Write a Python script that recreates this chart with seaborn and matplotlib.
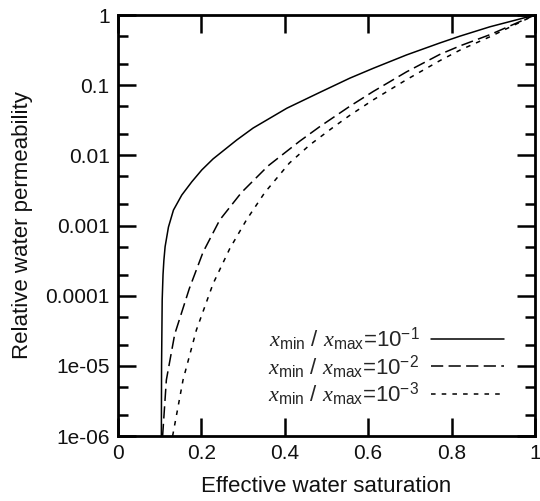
import seaborn as sns
import matplotlib.pyplot as plt
import matplotlib.ticker as mticker
import pandas as pd

# curves (effective saturation, relative permeability)
sat_1 = [0.104, 0.1045, 0.106, 0.108, 0.110, 0.113, 0.121, 0.133, 0.153, 0.177, 0.201, 0.228,
         0.285, 0.324, 0.405, 0.484, 0.556, 0.612, 0.692, 0.772, 0.820, 0.892, 1.0]
krw_1 = [1e-6, 1e-5, 8.7e-5, 2.0e-4, 3.16e-4, 5.0e-4, 9.5e-4, 1.66e-3, 2.72e-3, 4.2e-3, 6.2e-3, 8.9e-3,
         0.0166, 0.0245, 0.047, 0.079, 0.126, 0.174, 0.27, 0.40, 0.50, 0.68, 1.0]

sat_2 = [0.107, 0.116, 0.136, 0.171, 0.204, 0.244, 0.296, 0.36, 0.435, 0.484,
         0.556, 0.612, 0.692, 0.772, 0.820, 0.892, 1.0]
krw_2 = [1e-6, 6.3e-6, 2.82e-5, 1.26e-4, 4.17e-4, 1.2e-3, 2.95e-3, 7.08e-3, 0.0158, 0.0257,
         0.0501, 0.0813, 0.155, 0.275, 0.363, 0.525, 1.0]

sat_3 = [0.131, 0.156, 0.188, 0.228, 0.268, 0.308, 0.352, 0.411, 0.460, 0.516,
         0.556, 0.612, 0.692, 0.772, 0.820, 0.892, 1.0]
krw_3 = [1e-6, 6.3e-6, 3.24e-5, 1.48e-4, 4.68e-4, 1.2e-3, 2.95e-3, 7.76e-3, 0.0141, 0.0251,
         0.0372, 0.0617, 0.120, 0.224, 0.316, 0.49, 1.0]

labels = [r'$x_{\mathrm{min}}$ / $x_{\mathrm{max}}$=10$^{-1}$',
          r'$x_{\mathrm{min}}$ / $x_{\mathrm{max}}$=10$^{-2}$',
          r'$x_{\mathrm{min}}$ / $x_{\mathrm{max}}$=10$^{-3}$']

ytick_vals = [1e-6, 1e-5, 1e-4, 1e-3, 1e-2, 1e-1, 1]
ytick_text = ['1e-06', '1e-05', '0.0001', '0.001', '0.01', '0.1', '1']
xtick_vals = [0, 0.2, 0.4, 0.6, 0.8, 1]
xtick_text = ['0', '0.2', '0.4', '0.6', '0.8', '1']

sns.set_style('ticks')
plt.rcParams['font.family'] = ['Liberation Sans', 'DejaVu Sans']
plt.rcParams['mathtext.fontset'] = 'custom'
plt.rcParams['mathtext.rm'] = 'Liberation Sans'
plt.rcParams['mathtext.it'] = 'Liberation Serif:italic'
plt.rcParams['mathtext.bf'] = 'Liberation Sans:bold'
plt.rcParams['mathtext.sf'] = 'Liberation Sans'

fig = plt.figure(figsize=(5.4, 5.01), dpi=100)
ax = fig.add_axes([0.2185, 0.1297, 0.7722, 0.8403])

curves = [(sat_1, krw_1, '-', None), (sat_2, krw_2, '--', (8, 3.5)), (sat_3, krw_3, '--', (3, 4))]
for (s, k, ls, dash), lab in zip(curves, labels):
    df = pd.DataFrame({'sat': s, 'krw': k})
    sns.lineplot(data=df, x='sat', y='krw', ax=ax, color='black', lw=1.1,
                 linestyle=ls, label=lab, estimator=None, sort=False)
    if dash is not None:
        ax.lines[-1].set_dashes(dash)

ax.set_yscale('log')
ax.set_xlim(0, 1)
ax.set_ylim(1e-6, 1)
ax.set_yticks(ytick_vals, labels=ytick_text)
ax.yaxis.set_minor_locator(mticker.LogLocator(base=10, subs=(2, 5)))
ax.yaxis.set_minor_formatter(mticker.NullFormatter())
ax.set_xticks(xtick_vals, labels=xtick_text)
ax.xaxis.set_minor_locator(mticker.NullLocator())

ax.tick_params(which='both', direction='in', top=True, right=True, width=1.8,
               labelsize=15, color='black', labelcolor='#111111')
ax.tick_params(which='major', length=13, pad=6)
ax.tick_params(which='minor', length=7)
for sp in ax.spines.values():
    sp.set_linewidth(2.0)
    sp.set_color('black')

ax.set_xlabel('Effective water saturation', fontsize=16, color='#111111', labelpad=9)
ax.set_ylabel('Relative water permeability', fontsize=16, color='#111111', labelpad=9)

ax.legend(loc='lower right', bbox_to_anchor=(0.952, 0.04), frameon=False,
          markerfirst=False, fontsize=16, handlelength=3.3,
          labelspacing=0.0, handletextpad=0.5, borderpad=0)

fig.savefig('out.png', dpi=100)
